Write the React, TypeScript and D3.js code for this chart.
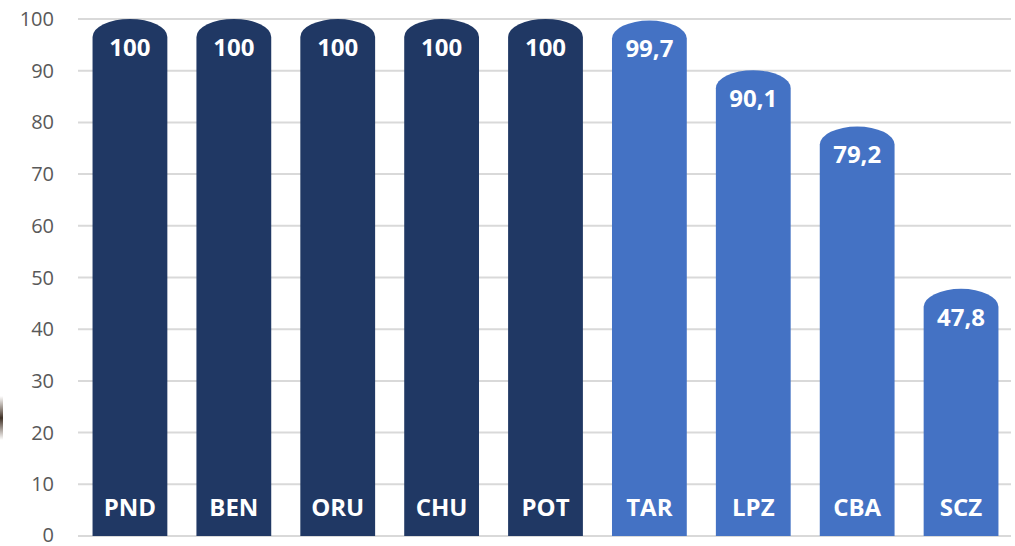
import React from "react";
import * as d3 from "d3";

const categories = ["PND", "BEN", "ORU", "CHU", "POT", "TAR", "LPZ", "CBA", "SCZ"];
const values = [100, 100, 100, 100, 100, 99.7, 90.1, 79.2, 47.8];
const groups = ["dark", "dark", "dark", "dark", "dark", "light", "light", "light", "light"];
const yTicks = [0, 10, 20, 30, 40, 50, 60, 70, 80, 90, 100];

const W = 1015;
const H = 546;
const colors: Record<string, string> = { dark: "#203864", light: "#4472C4" };

export default function App() {
  const x = d3.scaleBand<string>().domain(categories).range([78, 1013]).paddingInner(0.28).paddingOuter(0.14);
  const y = d3.scaleLinear().domain([0, 100]).range([536, 19]);
  const bw = x.bandwidth();
  const ry = 18;
  const fmt = (v: number) => (Number.isInteger(v) ? String(v) : v.toFixed(1).replace(".", ","));

  const barPath = (xi: number, v: number) => {
    const top = y(v);
    const bottom = y(0);
    const rx = bw / 2;
    return `M${xi},${bottom} L${xi},${top + ry} A${rx},${ry} 0 0 1 ${xi + bw},${top + ry} L${xi + bw},${bottom} Z`;
  };

  return (
    <svg width={W} height={H} style={{ position: "absolute", left: 0, top: 0, background: "#fff" }}>
      <defs>
        <linearGradient id="art" x1="0" y1="0" x2="0" y2="1">
          <stop offset="0" stopColor="#5a4636" stopOpacity="0" />
          <stop offset="0.5" stopColor="#3d2f25" stopOpacity="1" />
          <stop offset="1" stopColor="#5a4636" stopOpacity="0" />
        </linearGradient>
      </defs>
      <rect x={0} y={396} width={3} height={44} fill="url(#art)" />
      {yTicks.map((t) => (
        <g key={t}>
          <line x1={78} x2={1011} y1={y(t)} y2={y(t)} stroke="#d9d9d9" strokeWidth={2} />
          <text
            x={54}
            y={t === 0 ? y(t) - 1 : y(t)}
            dy="0.35em"
            textAnchor="end"
            fontFamily="'Open Sans', sans-serif"
            fontSize={20}
            fill="#595959"
          >
            {t}
          </text>
        </g>
      ))}
      {categories.map((c, i) => {
        const xi = x(c)!;
        const v = values[i];
        return (
          <g key={c}>
            <path d={barPath(xi, v)} fill={colors[groups[i]]} />
            <text
              x={xi + bw / 2}
              y={y(v) + 28}
              dy="0.36em"
              textAnchor="middle"
              fontFamily="'Open Sans', sans-serif"
              fontWeight={700}
              fontSize={24}
              fill="#fff"
            >
              {fmt(v)}
            </text>
            <text
              x={xi + bw / 2}
              y={507}
              dy="0.36em"
              textAnchor="middle"
              fontFamily="'Open Sans', sans-serif"
              fontWeight={700}
              fontSize={24}
              fill="#fff"
            >
              {c}
            </text>
          </g>
        );
      })}
    </svg>
  );
}
